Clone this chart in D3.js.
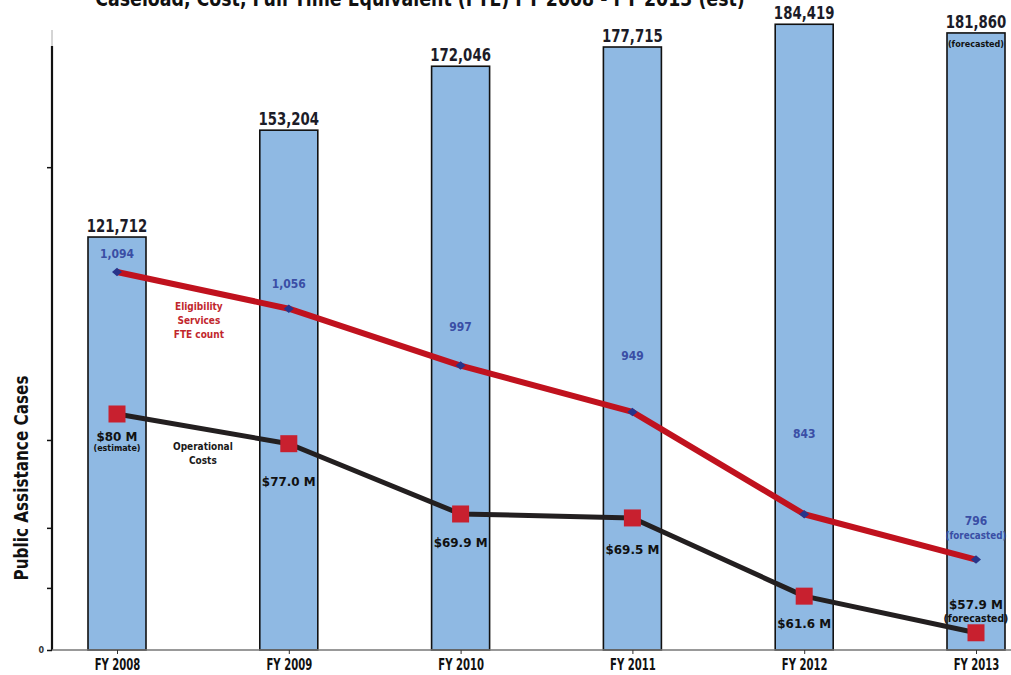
<!DOCTYPE html>
<html>
<head>
<meta charset="utf-8">
<script src="https://cdn.jsdelivr.net/npm/d3@7/dist/d3.min.js"></script>
<style>
  html, body { margin: 0; padding: 0; background: #ffffff; }
  svg { display: block; }
  text { font-family: "DejaVu Sans", "Liberation Sans", sans-serif; font-weight: bold; }
</style>
</head>
<body>
<svg id="chart" width="1011" height="675"></svg>
<script>
// Fiscal years shown along the bottom
const years = ["FY 2008", "FY 2009", "FY 2010", "FY 2011", "FY 2012", "FY 2013"];
// Public assistance caseload (bars)
const caseloads = [121712, 153204, 172046, 177715, 184419, 181860];
const caseloadLabels = ["121,712", "153,204", "172,046", "177,715", "184,419", "181,860"];
// Eligibility Services FTE count (red line)
const fteCounts = [1094, 1056, 997, 949, 843, 796];
const fteLabels = ["1,094", "1,056", "997", "949", "843", "796"];
// Operational costs in millions of dollars (black line)
const costsM = [80, 77.0, 69.9, 69.5, 61.6, 57.9];
const costLabels = ["$80 M", "$77.0 M", "$69.9 M", "$69.5 M", "$61.6 M", "$57.9 M"];
// Ticks on the caseload axis
const caseTicks = [0, 18300, 36000, 61900, 142300];

const svg = d3.select("#chart");
const W = 1011, H = 675;
const baseY = 650, axisX = 52;

// Squeeze text horizontally about its anchor x to mimic a condensed typeface
function condense(sel, f) {
  sel.each(function () {
    const x0 = +this.getAttribute("x") || 0;
    d3.select(this).attr("transform", `translate(${x0},0) scale(${f},1) translate(${-x0},0)`);
  });
}

svg.append("rect").attr("width", W).attr("height", H).attr("fill", "#ffffff");

// Scales
const x = d3.scalePoint().domain(years).range([117, 976]);
const barW = 58;
const yCases = d3.scaleLinear().domain([0, 191570]).range([baseY, 0]);
const yFte = d3.scaleLinear().domain([702.3, 1375.9]).range([baseY, 0]);
const yCost = d3.scaleLinear().domain([56.16, 121.82]).range([baseY, 0]);

// Title (runs off the top edge)
const title = svg.append("text")
  .attr("x", 420).attr("y", 6)
  .attr("text-anchor", "middle")
  .attr("font-size", 22)
  .attr("fill", "#111")
  .text("Caseload, Cost, Full Time Equivalent (FTE) FY 2008 - FY 2013 (est)");
title.call(condense, 650 / title.node().getComputedTextLength());

// Bars
const bars = svg.append("g");
bars.selectAll("rect").data(caseloads).join("rect")
  .attr("x", (d, i) => x(years[i]) - barW / 2)
  .attr("y", d => yCases(d))
  .attr("width", barW)
  .attr("height", d => baseY - yCases(d))
  .attr("fill", "#8fb9e3")
  .attr("stroke", "#111")
  .attr("stroke-width", 1.6);

bars.selectAll("text.val").data(caseloads).join("text")
  .attr("class", "val")
  .attr("x", (d, i) => x(years[i]))
  .attr("y", d => yCases(d) - 5)
  .attr("text-anchor", "middle")
  .attr("font-size", 18)
  .attr("fill", "#1c1c28")
  .text((d, i) => caseloadLabels[i])
  .call(condense, 0.74);

svg.append("text")
  .attr("x", x(years[5]))
  .attr("y", yCases(caseloads[5]) + 14)
  .attr("text-anchor", "middle")
  .attr("font-size", 9)
  .attr("font-weight", "normal")
  .attr("fill", "#111")
  .text("(forecasted)")
  .call(condense, 0.9);

// Left axis
const yAxis = d3.axisLeft(yCases)
  .tickValues(caseTicks)
  .tickSize(5)
  .tickFormat(d => d === 0 ? "0" : "");
const ga = svg.append("g").attr("transform", `translate(${axisX},0)`).call(yAxis);
ga.select(".domain").remove();
ga.selectAll(".tick line").attr("stroke", "#111").attr("stroke-width", 1.5);
ga.selectAll(".tick text").attr("font-size", 8).attr("fill", "#333").attr("x", -8)
  .attr("font-family", "\"DejaVu Sans\", sans-serif");
svg.append("line")
  .attr("x1", axisX).attr("x2", axisX)
  .attr("y1", 30).attr("y2", 46)
  .attr("stroke", "#aaa").attr("stroke-width", 1);
svg.append("line")
  .attr("x1", axisX).attr("x2", axisX)
  .attr("y1", 46).attr("y2", baseY)
  .attr("stroke", "#111").attr("stroke-width", 2.2);

// Bottom axis
svg.append("line")
  .attr("x1", axisX).attr("x2", W)
  .attr("y1", baseY).attr("y2", baseY)
  .attr("stroke", "#777").attr("stroke-width", 1.6);
const xAxis = d3.axisBottom(x).tickSize(4).tickPadding(5);
const gx = svg.append("g").attr("transform", `translate(0,${baseY})`).call(xAxis);
gx.select(".domain").remove();
gx.selectAll(".tick line").attr("stroke", "#333");
gx.selectAll(".tick text").attr("font-size", 16).attr("fill", "#111")
  .attr("font-family", "\"DejaVu Sans\", sans-serif")
  .attr("font-weight", "bold")
  .call(condense, 0.63);

// Y axis title
svg.append("text")
  .attr("transform", "translate(28,478) rotate(-90)")
  .attr("text-anchor", "middle")
  .attr("font-size", 20)
  .attr("textLength", 205)
  .attr("lengthAdjust", "spacingAndGlyphs")
  .attr("fill", "#111")
  .text("Public Assistance Cases");

// FTE line
const fteLine = d3.line().x((d, i) => x(years[i])).y(d => yFte(d));
svg.append("path").datum(fteCounts)
  .attr("d", fteLine)
  .attr("fill", "none")
  .attr("stroke", "#c0121e")
  .attr("stroke-width", 6)
  .attr("stroke-linejoin", "round");
svg.append("g").selectAll("path").data(fteCounts).join("path")
  .attr("d", d3.symbol(d3.symbolSquare, 50))
  .attr("transform", (d, i) => `translate(${x(years[i])},${yFte(d)}) scale(1,0.85) rotate(45)`)
  .attr("fill", "#28348a");

// FTE value labels, offset above each point
const fteDy = [-14, -21, -35, -52, -76, -35];
svg.append("g").selectAll("text").data(fteCounts).join("text")
  .attr("x", (d, i) => x(years[i]))
  .attr("y", (d, i) => yFte(d) + fteDy[i])
  .attr("text-anchor", "middle")
  .attr("font-size", 12)
  .attr("fill", "#3a4ea5")
  .text((d, i) => fteLabels[i])
  .call(condense, 0.9);
svg.append("text")
  .attr("x", x(years[5]))
  .attr("y", yFte(fteCounts[5]) + fteDy[5] + 14)
  .attr("text-anchor", "middle")
  .attr("font-size", 10)
  .attr("font-weight", "normal")
  .attr("fill", "#3a4ea5")
  .text("(forecasted)")
  .call(condense, 0.88);

// Cost line
const costLine = d3.line().x((d, i) => x(years[i])).y(d => yCost(d));
svg.append("path").datum(costsM)
  .attr("d", costLine)
  .attr("fill", "none")
  .attr("stroke", "#231f20")
  .attr("stroke-width", 5)
  .attr("stroke-linejoin", "round");
const sq = 17;
svg.append("g").selectAll("rect").data(costsM).join("rect")
  .attr("x", (d, i) => x(years[i]) - sq / 2)
  .attr("y", d => yCost(d) - sq / 2)
  .attr("width", sq).attr("height", sq)
  .attr("fill", "#c8202f");

// Cost value labels, below each marker except the forecast
const costDy = [27, 42, 33, 36, 32, -24];
svg.append("g").selectAll("text").data(costsM).join("text")
  .attr("x", (d, i) => x(years[i]))
  .attr("y", (d, i) => yCost(d) + costDy[i])
  .attr("text-anchor", "middle")
  .attr("font-size", 13)
  .attr("fill", "#111")
  .text((d, i) => costLabels[i])
  .call(condense, 0.92);
svg.append("text")
  .attr("x", x(years[0]))
  .attr("y", yCost(costsM[0]) + 37)
  .attr("text-anchor", "middle")
  .attr("font-size", 8)
  .attr("font-weight", "normal")
  .attr("fill", "#111")
  .text("(estimate)");
svg.append("text")
  .attr("x", x(years[5]))
  .attr("y", yCost(costsM[5]) - 11)
  .attr("text-anchor", "middle")
  .attr("font-size", 11)
  .attr("font-weight", "normal")
  .attr("fill", "#111")
  .text("(forecasted)")
  .call(condense, 0.85);

// Series captions between the first two years
const midX = (x(years[0]) + x(years[1])) / 2;
const fteCap = svg.append("g").attr("fill", "#c1272d");
["Eligibility", "Services", "FTE count"].forEach((t, k) => {
  fteCap.append("text").attr("text-anchor", "middle").attr("font-size", 10)
    .attr("x", midX - 4).attr("y", 310 + k * 14).text(t);
});
const costCap = svg.append("g").attr("fill", "#1a1a1a");
["Operational", "Costs"].forEach((t, k) => {
  costCap.append("text").attr("text-anchor", "middle").attr("font-size", 10)
    .attr("x", midX).attr("y", 450 + k * 14).text(t);
});
fteCap.selectAll("text").call(condense, 0.9);
costCap.selectAll("text").call(condense, 0.9);
</script>
</body>
</html>
